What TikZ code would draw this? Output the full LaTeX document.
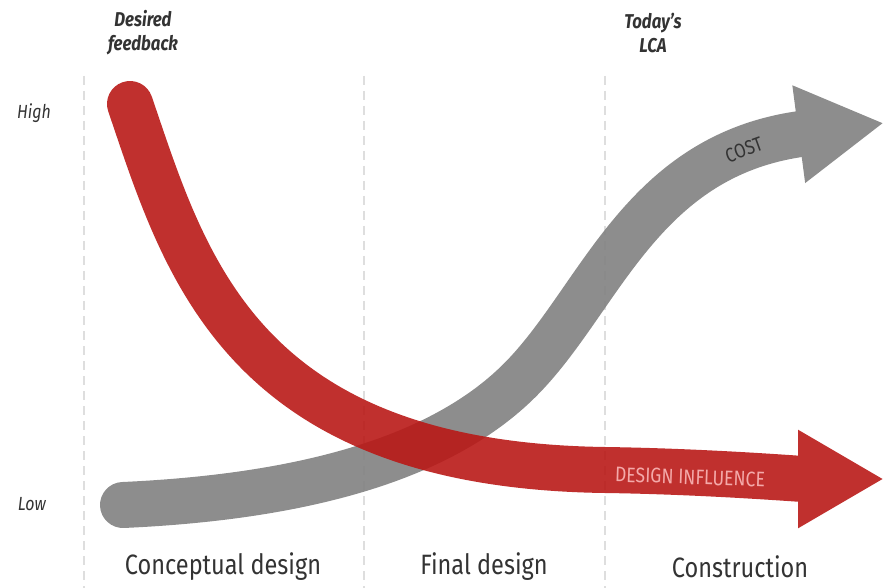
\documentclass[tikz,border=0pt]{standalone}
\usepackage{fontspec}
\setmainfont{Fira Sans}[FakeStretch=0.84]
\usetikzlibrary{arrows.meta}

\definecolor{influencered}{HTML}{B91917}
\definecolor{costgray}{HTML}{818181}
\definecolor{gridgray}{HTML}{DEDEDE}
\definecolor{labelgray}{HTML}{333333}
\definecolor{influencetext}{HTML}{F4A9A9}

\begin{document}
\begin{tikzpicture}[x=1pt, y=-1pt]
\tikzset{
    phase/.style={
        draw=gridgray,
        line width=2.2pt,
        dash pattern=on 9pt off 6pt,
    },
    band/.style={
        line width=46pt,
        line cap=round,
        -{Triangle[length=86pt, width=92pt]},
    },
    phaselabel/.style={
        text=labelgray,
        font=\fontsize{28}{30}\selectfont,
    },
    levellabel/.style={
        text=labelgray,
        font=\fontsize{19}{20}\selectfont\itshape,
    },
    toplabel/.style={
        text=labelgray,
        align=center,
        font=\fontsize{20}{24}\selectfont\bfseries\itshape,
    },
}

    \useasboundingbox (0,0) rectangle (884,588);

    % phase borders
    \draw[phase] (84,76) -- (84,588);
    \draw[phase] (364,76) -- (364,588);
    \draw[phase] (605,76) -- (605,588);

    % labels on top
    \node[toplabel] (desired) at (143,33) {Desired\\feedback};
    \node[toplabel] (today) at (653,33) {Today’s\\LCA};

    % level labels
    \node[levellabel] (high) at (34,113) {High};
    \node[levellabel] (low) at (32,504) {Low};

    % phase labels
    \node[phaselabel] (concept) at (223,567) {Conceptual design};
    \node[phaselabel] (final) at (484,567) {Final design};
    \node[phaselabel] (construct) at (740,567) {Construction};

    % cost curve
    \coordinate (cost start) at (123,505);
    \coordinate (cost mid) at (520,380);
    \coordinate (cost end) at (884,123);
    \begin{scope}[transparency group, opacity=.9]
        \draw[band, draw=costgray] (cost start)
            .. controls (300,497) and (440,460) .. (cost mid)
            .. controls (600,300) and (640,155) .. (cost end);
    \end{scope}
    \node[text=labelgray, rotate=20, font=\fontsize{20}{22}\selectfont]
        (cost) at (744,150) {COST};

    % design influence curve
    \coordinate (influence start) at (130,104);
    \coordinate (influence mid) at (605,470);
    \coordinate (influence end) at (884,479);
    \begin{scope}[transparency group, opacity=.9]
        \draw[band, draw=influencered] (influence start)
            .. controls (185,265) and (240,465) .. (influence mid)
            .. controls (705,471.4) and (800,479) .. (influence end);
    \end{scope}
    \node[text=influencetext, rotate=-2, font=\fontsize{21}{22}\selectfont]
        (influence) at (690,477) {DESIGN INFLUENCE};

\end{tikzpicture}
\end{document}
